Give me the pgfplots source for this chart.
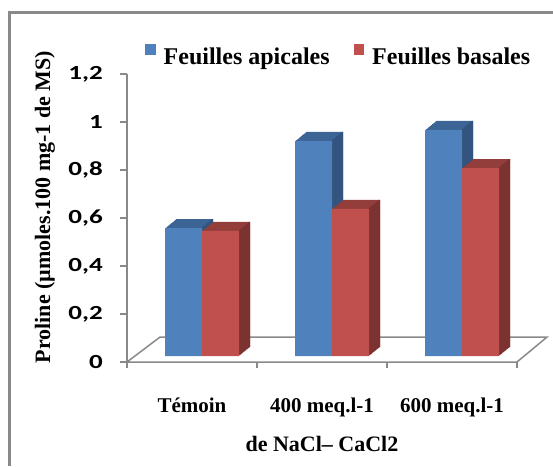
\documentclass[border=0pt]{standalone}
\usepackage{fontspec}
\setmainfont{Liberation Serif}
\newfontfamily\tickfont{Carlito}[FakeStretch=1.35]
\usepackage{pgfplots}
\usepackage{pgfplotstable}
\pgfplotsset{compat=1.18}
\definecolor{bF}{HTML}{4F81BD}
\definecolor{bT}{HTML}{3C6494}
\definecolor{bS}{HTML}{32547E}
\definecolor{rF}{HTML}{C0504D}
\definecolor{rT}{HTML}{943E3C}
\definecolor{rS}{HTML}{7B3230}
\definecolor{fr}{HTML}{898989}
\pgfplotstableread{
x a b
0 0.533 0.521
1 0.896 0.613
2 0.942 0.783
}\data
\begin{document}
\begin{tikzpicture}[x=1pt,y=1pt]
\useasboundingbox (0,0) rectangle (553,466);
\draw[fr, line width=2.5pt] (9.25,0) -- (9.25,453.5) -- (553,453.5);
\begin{axis}[at={(127pt,104pt)}, anchor=south west, width=390pt, height=288pt,
  scale only axis, xmin=-0.5, xmax=2.5, ymin=0, ymax=1.2, clip=false,
  axis x line*=bottom, axis y line*=left,
  x axis line style={draw=none}, y axis line style={fr, line width=1.8pt},
  xtick={0,1,2}, xticklabels={Témoin, 400 meq.l-1, 600 meq.l-1},
  ytick={0,0.2,0.4,0.6,0.8,1,1.2},
  /pgf/number format/use comma, /pgf/number format/assume math mode=true,
  xtick style={draw=none}, ytick style={fr, line width=1.5pt},
  tick align=outside, major tick length=7pt,
  yticklabel style={font=\tickfont\bfseries\fontsize{20}{22}\selectfont, anchor=east, inner sep=0pt, xshift=-17pt},
  xticklabel style={font=\bfseries\fontsize{21}{24}\selectfont, anchor=base, yshift=-43pt},
  xlabel={de NaCl– CaCl2},
  every axis x label/.style={at={(axis description cs:0.5,0)}, anchor=base, yshift=-89pt, font=\bfseries\fontsize{22}{26}\selectfont},
  ylabel={Proline (µmoles.100 mg-1 de MS)},
  every axis y label/.style={at={(axis description cs:-0.1974,0.538)}, rotate=90, anchor=base, font=\bfseries\fontsize{22}{26}\selectfont},
  legend columns=2,
  legend image code/.code={\fill[#1] (0pt,2pt) rectangle (10.5pt,12.5pt);},
  legend style={at={(axis description cs:0.0462,1.065)}, anchor=west, draw=none, fill=none, inner sep=0pt,
    nodes={inner sep=0pt}, font=\bfseries\fontsize{24}{28}\selectfont,
    /tikz/every odd column/.append style={column sep=8pt},
    /tikz/every even column/.append style={column sep=24pt}},
  legend cell align=left,
  ]
\addlegendimage{fill=bF, draw=none}
\addlegendentry{Feuilles apicales}
\addlegendimage{fill=rF, draw=none}
\addlegendentry{Feuilles basales}
\draw[fr, line width=1.5pt] (axis cs:-0.52,0) -- (axis cs:2.5,0) -- (axis cs:2.731,0.104) -- (axis cs:-0.246,0.104) -- (axis cs:-0.5,0);
\pgfplotsinvokeforeach{-0.5,0.5,1.5,2.5}{\draw[fr, line width=1.5pt] (axis cs:#1,0) -- ++(0pt,-6pt);}
\end{axis}
\begin{axis}[at={(127pt,110pt)}, anchor=south west, width=390pt, height=288pt,
  scale only axis, xmin=-0.5, xmax=2.5, ymin=0, ymax=1.2, hide axis, clip=false]
\pgfplotsinvokeforeach{1,...,11}{
  \addplot[ybar, bar width=37pt, bar shift=-8.5pt, fill=bT, draw=none, xshift=#1pt, yshift={0.818*#1pt}, forget plot] table[x=x,y=a]{\data};
}
\pgfplotsinvokeforeach{1,...,11}{
  \addplot[ybar, bar width=1.5pt, bar shift=9.25pt, fill=bS, draw=none, xshift=#1pt, yshift={0.818*#1pt}, forget plot] table[x=x,y=a]{\data};
}
\addplot[ybar, bar width=37pt, bar shift=-8.5pt, fill=bF, draw=none, forget plot] table[x=x,y=a]{\data};
\pgfplotsinvokeforeach{1,...,11}{
  \addplot[ybar, bar width=37pt, bar shift=28.5pt, fill=rT, draw=none, xshift=#1pt, yshift={0.818*#1pt}, forget plot] table[x=x,y=b]{\data};
}
\pgfplotsinvokeforeach{1,...,11}{
  \addplot[ybar, bar width=1.5pt, bar shift=46.25pt, fill=rS, draw=none, xshift=#1pt, yshift={0.818*#1pt}, forget plot] table[x=x,y=b]{\data};
}
\addplot[ybar, bar width=37pt, bar shift=28.5pt, fill=rF, draw=none, forget plot] table[x=x,y=b]{\data};
\end{axis}
\end{tikzpicture}
\end{document}
